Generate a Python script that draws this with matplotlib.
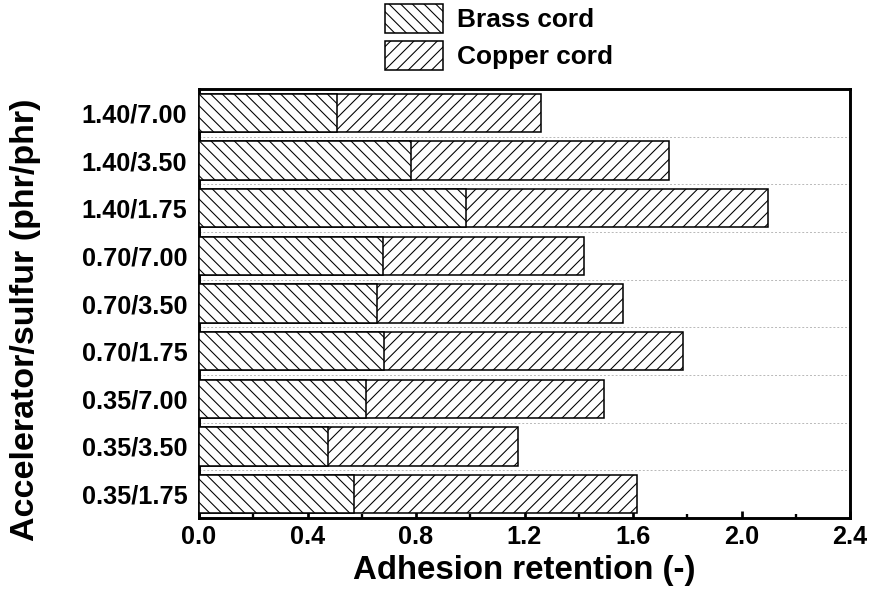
import numpy as np
from matplotlib import pyplot as plt
from matplotlib.patches import Patch

plt.rcParams['font.family'] = ['Liberation Sans', 'DejaVu Sans']
plt.rcParams['font.weight'] = 'bold'
plt.rcParams['hatch.linewidth'] = 0.55

# categories listed bottom to top
ratios = ["0.35/1.75", "0.35/3.50", "0.35/7.00",
          "0.70/1.75", "0.70/3.50", "0.70/7.00",
          "1.40/1.75", "1.40/3.50", "1.40/7.00"]
brass = [0.571, 0.476, 0.616, 0.682, 0.656, 0.679, 0.986, 0.782, 0.509]
copper = [1.616, 1.175, 1.492, 1.785, 1.563, 1.418, 2.097, 1.733, 1.260]
xticks = [0.0, 0.4, 0.8, 1.2, 1.6, 2.0, 2.4]

fig = plt.figure(figsize=(874/140, 604/140), dpi=140)
ax = fig.add_axes([199/874, 1-518/604, 651/874, 429/604])

y = np.arange(len(ratios))
ax.barh(y, copper, height=0.8, color='white', edgecolor='black', hatch='////', lw=0.8, zorder=2)
ax.barh(y, brass, height=0.8, color='white', edgecolor='black', hatch='\\\\\\\\', lw=0.8, zorder=3)

ax.set_xlim(0, 2.4)
ax.set_ylim(-0.5, len(ratios)-0.5)
ax.set_xticks(xticks)
ax.set_xticklabels([f"{v:.1f}" for v in xticks])
ax.set_xticks(np.arange(0.2, 2.4, 0.4), minor=True)
ax.set_yticks(y)
ax.set_yticklabels(ratios)
ax.set_yticks(y[:-1]+0.5, minor=True)
ax.grid(which='minor', axis='y', color='#b8b8b8', ls=(0, (2, 2)), lw=0.5, zorder=1)

ax.tick_params(axis='x', which='major', direction='in', length=3.5, width=1.4, labelsize=13, pad=3.5)
ax.tick_params(axis='x', which='minor', direction='in', length=2, width=1.2)
ax.tick_params(axis='y', which='both', length=0, labelsize=13, pad=6)
for s in ax.spines.values():
    s.set_linewidth(1.5)

ax.set_xlabel("Adhesion retention (-)", fontsize=17, fontweight='bold', labelpad=3)
ax.set_ylabel("Accelerator/sulfur (phr/phr)", fontsize=17.5, fontweight='bold')
ax.yaxis.set_label_coords(-0.243, 0.462)

handles = [Patch(facecolor='white', edgecolor='black', hatch='\\\\\\\\', lw=0.8, label='Brass cord'),
           Patch(facecolor='white', edgecolor='black', hatch='////', lw=0.8, label='Copper cord')]
fig.legend(handles=handles, loc='upper left', bbox_to_anchor=(385/874, 1-4/604), frameon=False,
           fontsize=13.5, handlelength=2.2, handleheight=1.3, handletextpad=0.55,
           labelspacing=0.32, borderpad=0, borderaxespad=0)

plt.savefig("out.png", dpi=140)
